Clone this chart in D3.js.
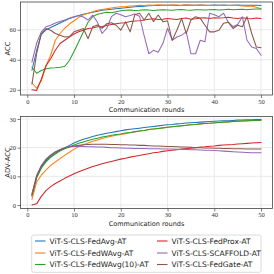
<!DOCTYPE html>
<html><head><meta charset="utf-8">
<script src="https://cdn.jsdelivr.net/npm/d3@7"></script>
<style>html,body{margin:0;padding:0;background:#fff;} svg{display:block}</style>
</head><body><svg id="c" width="274" height="274"></svg>
<script>
const rounds = [1,2,3,4,5,6,7,8,9,10,11,12,13,14,15,16,17,18,19,20,21,22,23,24,25,26,27,28,29,30,31,32,33,34,35,36,37,38,39,40,41,42,43,44,45,46,47,48,49,50];
const seriesNames = ["ViT-S-CLS-FedAvg-AT","ViT-S-CLS-FedWAvg-AT","ViT-S-CLS-FedWAvg(10)-AT","ViT-S-CLS-FedProx-AT","ViT-S-CLS-SCAFFOLD-AT","ViT-S-CLS-FedGate-AT"];
const seriesColors = ["#1f77b4","#ff7f0e","#2ca02c","#d62728","#9467bd","#8c564b"];
const xTicks = [0,10,20,30,40,50];
const accTicks = [20,40,60];
const advTicks = [0,10,20,30];

// ACC (top panel)
const accFedAvg = [33,46,57,60,61.5,63,64.5,66,67.5,68.5, 69.5,70.3,71,71.6,72.4,73,73.4,73.6,74,74.4, 74.6,75,75.3,75.5,75.6,76,76.1,76.2,76.3,76.3, 76.4,76.2,76.3,76.5,76.4,76.3,76.5,76.4,76.3,76.5, 76.4,76.5,76.3,76.4,76.5,76.4,76.3,76.4,76.3,76.2];
const accFedWAvg = [24.5,21,26,36,43,53,57.5,61,63.8,66, 68.3,70,71,72,73,73.5,74,74.5,75,75.3, 75.5,75.8,76,76.3,76.2,76.5,76.4,76.6,76.5,76.4, 76.6,76.5,76.4,76.6,76.5,76.3,76.5,76.4,76.2,76.4, 76.3,76.4,76.2,76.3,76.1,75.8,75.6,75.7,75.0,74.0];
const accFedWAvg10 = [35,31,32.8,34,34.5,34.6,35,35.5,39.5,45.5, 52,58.5,65,68.8,70.3,71,71.6,71.3,72,72.6, 73,73.2,72.8,73,73.3,73.1,72.9,73.2,73.4,73.2, 73,73.3,73.5,73.2,73,73.3,73.4,73.1,73.3,73.5, 73.2,73.4,73.6,73.3,73.5,73.7,73.4,73.6,73.8,73.8];
const accFedProx = [20,19.5,27,36,40.7,46.3,50.8,53,55.2,57.2, 58.6,59.7,60.8,61.2,62,62.2,62.8,63.5,64,64.5, 64.7,65.5,65.8,66,66.5,67,67.3,66.8,67,67.5, 67.2,66.8,67.5,67.8,67,67.3,67.8,68,67.5,68, 67.8,68,68.3,67.8,67.5,68,67.5,67.3,67.8,67.5];
const accSCAFFOLD = [38.4,51,58.6,62,63,64.5,65.5,66.5,67.6,68.7, 69.5,68.5,66.5,69.8,65,57.5,61,68.7,71,70, 68.7,69.5,70.5,69,56,44,46.3,45,50.8,61, 53,55.2,56.4,58.6,44,44,53,52,71,70, 68.7,71,65,62,63.5,68.7,53,48.5,47.5,43];
const accFedGate = [23.8,44,57.5,60.8,59.7,57.5,56.4,55.2,55.5,58.6, 59.7,60.8,54,62,63.2,61,64,64.7,63,59.7, 65.3,58.6,70,71,66.5,71,65.4,69.8,65.4,66, 53,59.7,67.6,57.5,66.5,68.7,67.6,63,58.6,58.6, 59.7,64.4,65,60.8,63,62,68.7,57.5,48.5,48];

// ADV-ACC (bottom panel)
const advFedAvg = [3.0,9.8,13.2,15.4,16.9,18.0,19.2,20.0,20.8,21.6, 22.3,22.9,23.4,23.9,24.3,24.7,25.0,25.3,25.6,25.9, 26.2,26.4,26.6,26.8,27.0,27.2,27.4,27.6,27.8,28.0, 28.1,28.3,28.4,28.6,28.7,28.8,28.9,29.0,29.1,29.2, 29.3,29.4,29.4,29.5,29.6,29.6,29.7,29.7,29.8,29.8];
const advFedWAvg = [2.0,8.0,10.4,12.2,13.8,15.0,16.2,17.3,18.4,19.5, 20.3,21.0,21.6,22.2,22.7,23.2,23.6,24.0,24.3,24.6, 24.9,25.2,25.5,25.8,26.0,26.3,26.5,26.7,26.9,27.1, 27.3,27.5,27.7,27.8,28.0,28.1,28.3,28.4,28.5,28.6, 28.8,28.9,29.0,29.1,29.2,29.3,29.3,29.4,29.5,29.5];
const advFedWAvg10 = [3.5,9.5,12.8,15.0,16.6,17.8,18.8,19.6,20.3,20.9, 21.5,22.0,22.5,22.9,23.3,23.7,24.0,24.3,24.6,24.8, 25.1,25.3,25.6,25.8,26.0,26.3,26.5,26.7,26.9,27.1, 27.3,27.5,27.6,27.8,28.0,28.1,28.3,28.4,28.5,28.7, 28.8,28.9,29.0,29.1,29.2,29.3,29.4,29.5,29.5,29.6];
const advFedProx = [0.0,0.4,3.0,5.0,6.4,7.5,8.4,9.3,10.1,10.9, 11.6,12.2,12.8,13.4,13.9,14.4,14.8,15.2,15.6,16.0, 16.3,16.7,17.0,17.3,17.6,17.9,18.2,18.4,18.7,18.9, 19.1,19.3,19.5,19.7,19.8,20.0,20.2,20.3,20.5,20.6, 20.8,20.9,21.0,21.1,21.3,21.4,21.5,21.6,21.7,21.8];
const advSCAFFOLD = [4.0,10.3,13.8,16.0,17.5,18.6,19.4,20.0,20.3,20.4, 20.4,20.4,20.3,20.3,20.2,20.2,20.1,20.0,20.0,19.9, 19.8,19.8,19.7,19.7,19.7,19.6,19.6,19.6,19.5,19.5, 19.5,19.4,19.4,19.4,19.3,19.3,19.2,19.1,19.1,19.0, 18.9,18.8,18.7,18.6,18.5,18.4,18.3,18.2,18.2,18.2];
const advFedGate = [3.5,10.0,13.5,15.8,17.3,18.4,19.2,19.8,20.2,20.6, 20.8,21.0,21.1,21.2,21.2,21.2,21.2,21.1,21.1,21.0, 21.0,20.9,20.9,20.8,20.8,20.7,20.6,20.6,20.5,20.4, 20.4,20.3,20.2,20.2,20.1,20.0,20.0,19.9,19.9,19.8, 19.8,19.7,19.7,19.6,19.6,19.6,19.5,19.5,19.5,19.5];

const accSeries = [accFedAvg, accFedWAvg, accFedWAvg10, accFedProx, accSCAFFOLD, accFedGate];
const advSeries = [advFedAvg, advFedWAvg, advFedWAvg10, advFedProx, advSCAFFOLD, advFedGate];

const svg = d3.select("#c");
const tickFont = "'Liberation Serif', serif";
const labelFont = "'DejaVu Sans', sans-serif";

function panel(cfg) {
  const x = d3.scaleLinear().domain([-1.45, 52.45]).range([20.5, 272.5]);
  const y = d3.scaleLinear().domain(cfg.yDomain).range([cfg.bottom, cfg.top]);
  const g = svg.append("g");
  // grid
  g.selectAll(".gx").data(xTicks).join("line")
    .attr("x1", d => x(d)).attr("x2", d => x(d))
    .attr("y1", cfg.top).attr("y2", cfg.bottom)
    .attr("stroke", "#e3e3e3").attr("stroke-width", 0.8);
  g.selectAll(".gy").data(cfg.yTicks).join("line")
    .attr("x1", 20.5).attr("x2", 272.5)
    .attr("y1", d => y(d)).attr("y2", d => y(d))
    .attr("stroke", "#e3e3e3").attr("stroke-width", 0.8);
  // lines
  const line = d3.line().x((d, i) => x(rounds[i])).y(d => y(d));
  cfg.series.forEach((s, k) => {
    g.append("path").attr("d", line(s)).attr("fill", "none")
      .attr("stroke", seriesColors[k]).attr("stroke-width", 1.05)
      .attr("stroke-linejoin", "round").attr("stroke-linecap", "round");
  });
  // axes
  const xa = g.append("g").attr("transform", `translate(0,${cfg.bottom})`)
    .call(d3.axisBottom(x).tickValues(xTicks).tickSize(3).tickPadding(1));
  const ya = g.append("g").attr("transform", `translate(20.5,0)`)
    .call(d3.axisLeft(y).tickValues(cfg.yTicks).tickSize(3).tickPadding(1.5));
  [xa, ya].forEach(a => {
    a.select(".domain").remove();
    a.selectAll("line").attr("stroke", "#444").attr("stroke-width", 0.7);
    a.selectAll("text").attr("font-family", tickFont).attr("font-size", 6.5).attr("fill", "#333");
  });
  // frame
  g.append("rect").attr("x", 20.5).attr("y", cfg.top).attr("width", 252).attr("height", cfg.bottom - cfg.top)
    .attr("fill", "none").attr("stroke", "#444").attr("stroke-width", 0.8);
  // labels
  g.append("text").attr("x", 146.5).attr("y", cfg.bottom + 17).attr("text-anchor", "middle")
    .attr("font-family", labelFont).attr("font-size", 6.5).attr("fill", "#222").text("Communication rounds");
  g.append("text").attr("transform", `translate(9.5,${(cfg.top + cfg.bottom) / 2}) rotate(-90)`)
    .attr("text-anchor", "middle").attr("font-family", labelFont).attr("font-size", 6.8).attr("fill", "#222").text(cfg.yLabel);
}

panel({ top: 2, bottom: 95, yDomain: [16.5, 78.5], yTicks: accTicks, series: accSeries, yLabel: "ACC" });
panel({ top: 116.5, bottom: 208.5, yDomain: [-1.22, 30.87], yTicks: advTicks, series: advSeries, yLabel: "ADV-ACC" });

// legend
const lg = svg.append("g");
lg.append("rect").attr("x", 31.7).attr("y", 235).attr("width", 229.3).attr("height", 37.3)
  .attr("rx", 2).attr("fill", "#fff").attr("stroke", "#d0d0d0").attr("stroke-width", 0.8);
const colX = [35, 157];
const rowY = [241, 253, 264.5];
seriesNames.forEach((name, k) => {
  const c = Math.floor(k / 3), r = k % 3;
  lg.append("line").attr("x1", colX[c]).attr("x2", colX[c] + 10.5)
    .attr("y1", rowY[r]).attr("y2", rowY[r]).attr("stroke", seriesColors[k]).attr("stroke-width", 1.1);
  lg.append("text").attr("x", colX[c] + 14.5).attr("y", rowY[r]).attr("dy", "0.35em")
    .attr("font-family", labelFont).attr("font-size", 7.5).attr("fill", "#222").text(name);
});
</script></body></html>
